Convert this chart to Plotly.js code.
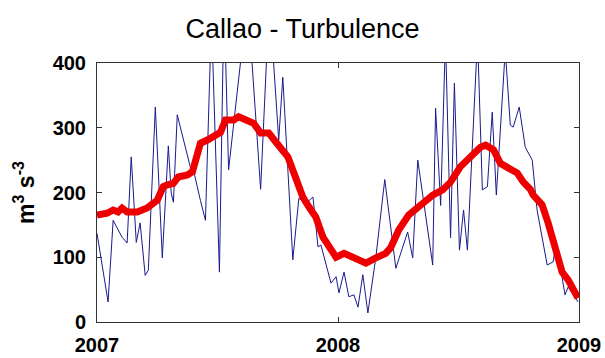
<!DOCTYPE html>
<html>
<head>
<meta charset="utf-8">
<script src="https://cdn.plot.ly/plotly-3.0.1.min.js"></script>
<style>html,body{margin:0;padding:0;background:#fff;}#chart{width:605px;height:358px;}</style>
</head>
<body>
<div id="chart"></div>
<script>
// Weekly turbulence (blue thin line), decimal years
const weeklyTime = [
  2007.000, 2007.046, 2007.067, 2007.104, 2007.125, 2007.142, 2007.163, 2007.179, 2007.200, 2007.213,
  2007.242, 2007.271, 2007.296, 2007.308, 2007.317, 2007.333, 2007.388, 2007.400, 2007.429, 2007.450,
  2007.475, 2007.508, 2007.527, 2007.546, 2007.625, 2007.679, 2007.715, 2007.754, 2007.771, 2007.8125,
  2007.8375, 2007.867, 2007.896, 2007.917, 2007.929, 2007.971, 2007.992, 2008.004, 2008.025, 2008.045,
  2008.066, 2008.083, 2008.103, 2008.124, 2008.157, 2008.194, 2008.240, 2008.289, 2008.310, 2008.331,
  2008.393, 2008.405, 2008.426, 2008.446, 2008.467, 2008.483, 2008.504, 2008.521, 2008.537, 2008.579,
  2008.599, 2008.620, 2008.640, 2008.657, 2008.694, 2008.715, 2008.727, 2008.752, 2008.777, 2008.806,
  2008.826, 2008.868, 2008.893, 2008.905, 2008.942, 2008.955, 2008.996
];
const weeklyValue = [
  137, 31, 157, 131, 122, 255, 123, 153, 72, 80,
  332, 99, 272, 199, 185, 320, 238, 235, 188, 157,
  470, 77, 500, 235, 500, 205, 500, 281, 378, 96,
  191, 183, 193, 116, 119, 60, 70, 45, 77, 39,
  42, 23, 73, 14, 100, 220, 83, 139, 99, 250,
  88, 330, 180, 440, 130, 369, 111, 173, 111, 440,
  204, 209, 324, 196, 420, 304, 301, 332, 270, 250,
  173, 88, 93, 124, 42, 54, 31
];
// Smoothed turbulence (thick red line)
const smoothTime = [
  2007.000, 2007.042, 2007.067, 2007.0875, 2007.104, 2007.125, 2007.167, 2007.208, 2007.250, 2007.275,
  2007.292, 2007.317, 2007.3375, 2007.375, 2007.396, 2007.429, 2007.458, 2007.483, 2007.5125, 2007.533,
  2007.567, 2007.5875, 2007.617, 2007.650, 2007.679, 2007.7125, 2007.742, 2007.7625, 2007.792, 2007.817,
  2007.854, 2007.879, 2007.908, 2007.9375, 2007.971, 2007.992, 2008.025, 2008.066, 2008.116, 2008.157,
  2008.198, 2008.219, 2008.252, 2008.293, 2008.343, 2008.393, 2008.434, 2008.467, 2008.508, 2008.550,
  2008.591, 2008.612, 2008.645, 2008.674, 2008.707, 2008.744, 2008.769, 2008.798, 2008.810, 2008.847,
  2008.872, 2008.901, 2008.930, 2008.955, 2008.996
];
const smoothValue = [
  165, 168, 173, 170, 176, 170, 170, 176, 188, 209,
  212, 214, 224, 227, 232, 276, 281, 287, 293, 312,
  312, 317, 312, 307, 292, 292, 278, 270, 255, 230,
  193, 178, 162, 131, 111, 100, 106, 99, 91, 99,
  106, 115, 142, 165, 181, 196, 204, 216, 240, 255,
  270, 273, 266, 245, 238, 230, 216, 205, 196, 181,
  153, 116, 77, 65, 37
];
const xTicks = [2007, 2008, 2009];
const xTickLabels = ['2007', '2008', '2009'];
const yTicks = [0, 100, 200, 300, 400];

const traces = [
  {x: weeklyTime, y: weeklyValue, type: 'scatter', mode: 'lines',
   line: {color: '#1a1a8c', width: 1}, hoverinfo: 'skip'},
  {x: smoothTime, y: smoothValue, type: 'scatter', mode: 'lines',
   line: {color: '#ee0000', width: 7}, hoverinfo: 'skip'}
];
const tickFont = {family: 'Liberation Sans, Arial, sans-serif', size: 20, color: '#000', weight: 'bold'};
const layout = {
  width: 605, height: 358,
  margin: {l: 97, r: 26, t: 63, b: 36},
  paper_bgcolor: '#fff', plot_bgcolor: '#fff',
  showlegend: false,
  title: {text: 'Callao - Turbulence', x: 0.5, xref: 'container', xanchor: 'center',
          y: 0.92, yref: 'container', yanchor: 'middle',
          font: {family: 'Liberation Sans, Arial, sans-serif', size: 27, color: '#000'}},
  xaxis: {range: [2007, 2009], tickvals: xTicks, ticktext: xTickLabels,
          showgrid: false, zeroline: false, showline: true, linecolor: '#333', linewidth: 1,
          mirror: 'ticks', ticks: 'inside', ticklen: 5, tickcolor: '#333',
          tickfont: tickFont, ticklabelstandoff: 5},
  yaxis: {range: [0, 400], tickvals: yTicks,
          showgrid: false, zeroline: false, showline: true, linecolor: '#333', linewidth: 1,
          mirror: 'ticks', ticks: 'inside', ticklen: 5, tickcolor: '#333',
          tickfont: tickFont, ticklabelstandoff: 6,
          title: {text: 'm<sup>3</sup> s<sup>-3</sup>', standoff: 11,
                  font: {family: 'Liberation Sans, Arial, sans-serif', size: 23, color: '#000', weight: 'bold'}}}
};
Plotly.newPlot('chart', traces, layout, {displayModeBar: false, staticPlot: true});
</script>
</body>
</html>
